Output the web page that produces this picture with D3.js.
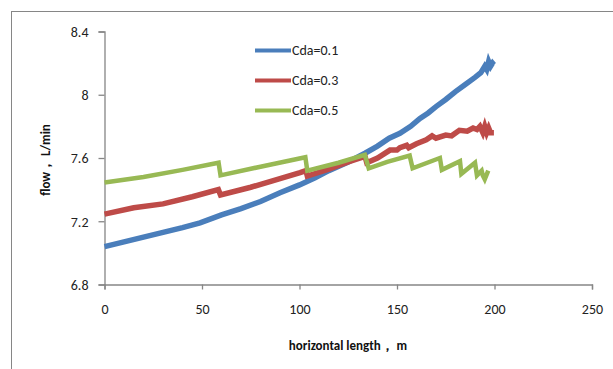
<!DOCTYPE html>
<html><head><meta charset="utf-8">
<script src="https://cdn.jsdelivr.net/npm/d3@7"></script>
<style>
body{margin:0;background:#fff;}
svg{display:block;font-family:Carlito,Lato,"Liberation Sans",sans-serif;}
</style></head>
<body><svg id="c" width="613" height="369"></svg>
<script>
const xTicks = [0, 50, 100, 150, 200, 250];
const yTicks = [6.8, 7.2, 7.6, 8.0, 8.4];
const yTickLabels = ["6.8", "7.2", "7.6", "8", "8.4"];
const seriesNames = ["Cda=0.1", "Cda=0.3", "Cda=0.5"];
const seriesColors = ["#4A7EBB", "#BE4B48", "#98B954"];

const blueX = [0,10,20,30,40,49,60,70,80,90,100,108,115,125,133.6,140,146,151.5,157,161.8,166,170,175,180,185,190,193,195,196,197,198,199,199.7];
const blueY = [7.04,7.07,7.10,7.13,7.16,7.19,7.24,7.28,7.325,7.38,7.43,7.475,7.52,7.575,7.63,7.675,7.725,7.756,7.80,7.85,7.885,7.925,7.97,8.02,8.065,8.11,8.14,8.18,8.16,8.21,8.18,8.20,8.19];

const redX = [0,15,30,45,58.4,59.5,75,90,100.3,103.3,104,115,125,133.6,134.5,140,146.4,150,151.5,155,156,160,165,168,170,175,178,182,186,189,191,192.5,194,195,196,197,198,199.7];
const redY = [7.245,7.285,7.31,7.355,7.40,7.366,7.415,7.47,7.507,7.52,7.486,7.53,7.575,7.61,7.57,7.60,7.65,7.65,7.665,7.68,7.665,7.69,7.715,7.74,7.725,7.745,7.74,7.775,7.77,7.79,7.78,7.80,7.76,7.80,7.76,7.79,7.76,7.76];

const greenX = [0,20,40,58.5,59.5,80,103,104,120,133.5,135.5,145,156.5,158,172,173,182.3,183,190,191,193.4,194,195,196.8];
const greenY = [7.445,7.48,7.525,7.57,7.49,7.545,7.605,7.52,7.57,7.62,7.535,7.575,7.615,7.535,7.60,7.525,7.58,7.50,7.57,7.49,7.52,7.49,7.465,7.52];

const seriesX = [blueX, redX, greenX];
const seriesY = [blueY, redY, greenY];

const svg = d3.select("#c");
const x = d3.scaleLinear().domain([0, 250]).range([104.5, 592]);
const y = d3.scaleLinear().domain([6.8, 8.4]).range([284.5, 31.5]);
const axisColor = "#868686";

// outer border
svg.append("rect").attr("x", 11.5).attr("y", 11.5).attr("width", 700).attr("height", 400)
  .attr("fill", "none").attr("stroke", axisColor).attr("stroke-width", 1);

// y axis
const yAxis = svg.append("g").attr("transform", `translate(${x(0)},0)`)
  .call(d3.axisLeft(y).tickValues(yTicks).tickSize(6).tickPadding(10)
    .tickFormat((d, i) => yTickLabels[i]));
// x axis
const xAxis = svg.append("g").attr("transform", `translate(0,${y(6.8)})`)
  .call(d3.axisBottom(x).tickValues(xTicks).tickSize(5).tickPadding(15).tickFormat(d3.format("d")));

[yAxis, xAxis].forEach(g => {
  g.select(".domain").attr("stroke", axisColor).attr("stroke-width", 1.3);
  g.selectAll(".tick line").attr("stroke", axisColor).attr("stroke-width", 1.3);
  g.selectAll("text").attr("fill", "#222").style("font-size", "14px").style("font-family", "Carlito,Lato,'Liberation Sans',sans-serif");
});
yAxis.selectAll(".tick text").attr("dy", "0.35em");

// lines
const line = d3.line().x(d => x(d[0])).y(d => y(d[1]));
seriesX.forEach((xs, i) => {
  const pts = xs.map((v, j) => [v, seriesY[i][j]]);
  svg.append("path").datum(pts).attr("d", line)
    .attr("fill", "none").attr("stroke", seriesColors[i]).attr("stroke-width", i === 2 ? 4.5 : 5.5)
    .attr("stroke-linejoin", "miter").attr("stroke-linecap", "butt");
});

// legend
const lg = svg.append("g");
seriesNames.forEach((n, i) => {
  const ly = 50.5 + i * 30;
  lg.append("line").attr("x1", 255).attr("x2", 291).attr("y1", ly).attr("y2", ly)
    .attr("stroke", seriesColors[i]).attr("stroke-width", 4);
  lg.append("text").attr("x", 292).attr("y", ly).attr("dy", "0.35em")
    .attr("fill", "#222").style("font-size", "14px").text(n);
});

// axis titles
svg.append("text").attr("x", 348).attr("y", 345).attr("dy", "0.35em").attr("text-anchor", "middle")
  .style("font-size", "13px").style("font-weight", "bold").attr("fill", "#111")
  .text("horizontal length， m");
svg.append("text").attr("transform", "translate(45,160) rotate(-90)").attr("dy", "0.35em")
  .attr("text-anchor", "middle").style("font-size", "13px").style("font-weight", "bold").attr("fill", "#111")
  .text("flow， L/min");
</script></body></html>
